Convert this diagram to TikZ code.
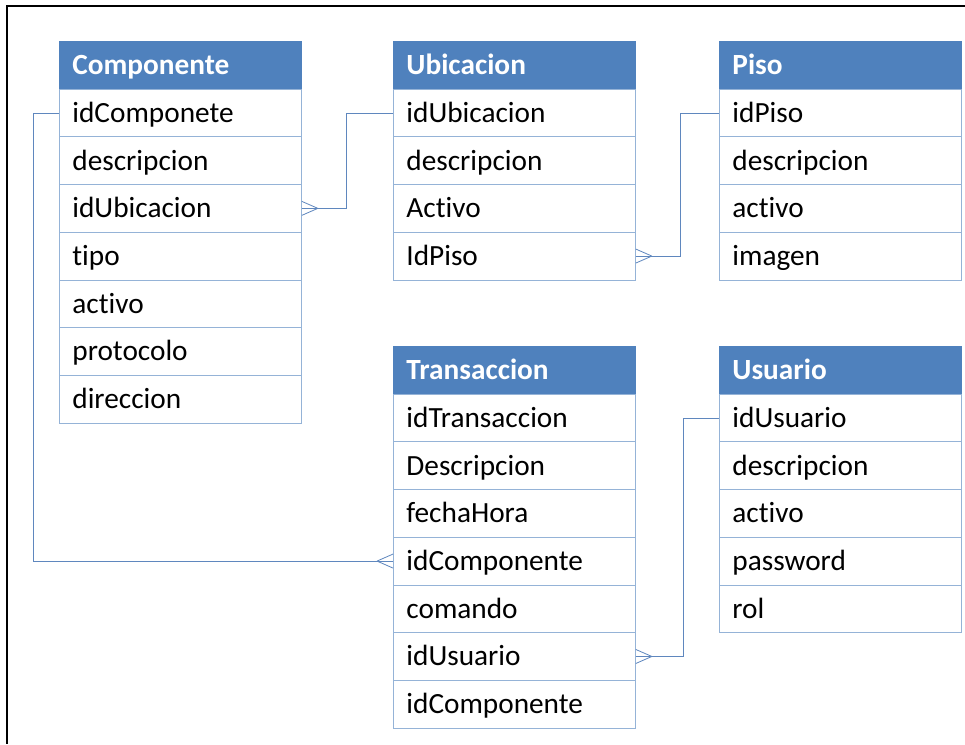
\documentclass[tikz,border=0pt]{standalone}
\usepackage{fontspec}
\setmainfont{Carlito}[Ligatures=NoCommon]
\definecolor{headblue}{RGB}{79,129,189}
\definecolor{rowline}{RGB}{149,179,215}
\definecolor{linkblue}{RGB}{95,135,190}
\newcommand{\rowh}{47.7}
\newcommand{\colw}{7.26cm}

\begin{document}
\begin{tikzpicture}[x=0.03cm, y=-0.03cm,
    rect/.style={draw=rowline, line width=0.7pt, fill=white, rectangle, anchor=north west, minimum width=\colw, minimum height=\rowh*0.03cm, text width=6.48cm, inner xsep=0.39cm, inner ysep=0pt, align=left, font=\fontsize{25}{29}\selectfont, execute at begin node={\rule[-4pt]{0pt}{24pt}}},
    head/.style={rect, fill=headblue, draw=headblue, text=white, font=\fontsize{25}{29}\selectfont\bfseries},
    link/.style={draw=linkblue, line width=0.7pt}]
    \useasboundingbox (0,0) rectangle (965,744);
    % frame
    \draw[line width=1.3pt] (965,6) -- (7,6) -- (7,744);

    % Componente
    \node[head] (comp-0) at (59,41) {Componente};
    \node[rect] (comp-1) at (59,{41+1*\rowh}) {idComponete};
    \node[rect] (comp-2) at (59,{41+2*\rowh}) {descripcion};
    \node[rect] (comp-3) at (59,{41+3*\rowh}) {idUbicacion};
    \node[rect] (comp-4) at (59,{41+4*\rowh}) {tipo};
    \node[rect] (comp-5) at (59,{41+5*\rowh}) {activo};
    \node[rect] (comp-6) at (59,{41+6*\rowh}) {protocolo};
    \node[rect] (comp-7) at (59,{41+7*\rowh}) {direccion};

    % Ubicacion
    \node[head] (ubic-0) at (393,41) {Ubicacion};
    \node[rect] (ubic-1) at (393,{41+1*\rowh}) {idUbicacion};
    \node[rect] (ubic-2) at (393,{41+2*\rowh}) {descripcion};
    \node[rect] (ubic-3) at (393,{41+3*\rowh}) {Activo};
    \node[rect] (ubic-4) at (393,{41+4*\rowh}) {IdPiso};

    % Piso
    \node[head] (piso-0) at (719,41) {Piso};
    \node[rect] (piso-1) at (719,{41+1*\rowh}) {idPiso};
    \node[rect] (piso-2) at (719,{41+2*\rowh}) {descripcion};
    \node[rect] (piso-3) at (719,{41+3*\rowh}) {activo};
    \node[rect] (piso-4) at (719,{41+4*\rowh}) {imagen};

    % Transaccion
    \node[head] (tran-0) at (393,346) {Transaccion};
    \node[rect] (tran-1) at (393,{346+1*\rowh}) {idTransaccion};
    \node[rect] (tran-2) at (393,{346+2*\rowh}) {Descripcion};
    \node[rect] (tran-3) at (393,{346+3*\rowh}) {fechaHora};
    \node[rect] (tran-4) at (393,{346+4*\rowh}) {idComponente};
    \node[rect] (tran-5) at (393,{346+5*\rowh}) {comando};
    \node[rect] (tran-6) at (393,{346+6*\rowh}) {idUsuario};
    \node[rect] (tran-7) at (393,{346+7*\rowh}) {idComponente};

    % Usuario
    \node[head] (usua-0) at (719,346) {Usuario};
    \node[rect] (usua-1) at (719,{346+1*\rowh}) {idUsuario};
    \node[rect] (usua-2) at (719,{346+2*\rowh}) {descripcion};
    \node[rect] (usua-3) at (719,{346+3*\rowh}) {activo};
    \node[rect] (usua-4) at (719,{346+4*\rowh}) {password};
    \node[rect] (usua-5) at (719,{346+5*\rowh}) {rol};

    % relations
    \draw[link] (comp-1.west) -- ++(-26,0) |- (tran-4.west);
    \draw[link] (tran-4.west) ++(-16,0) -- ++(16,-7) ++(-16,7) -- ++(16,7);
    \draw[link] (comp-3.east) -- ++(45,0) |- (ubic-1.west);
    \draw[link] (comp-3.east) ++(16,0) -- ++(-16,-7) ++(16,7) -- ++(-16,7);
    \draw[link] (ubic-4.east) -- ++(45,0) |- (piso-1.west);
    \draw[link] (ubic-4.east) ++(16,0) -- ++(-16,-7) ++(16,7) -- ++(-16,7);
    \draw[link] (tran-6.east) -- ++(48,0) |- (usua-1.west);
    \draw[link] (tran-6.east) ++(16,0) -- ++(-16,-7) ++(16,7) -- ++(-16,7);
\end{tikzpicture}
\end{document}
